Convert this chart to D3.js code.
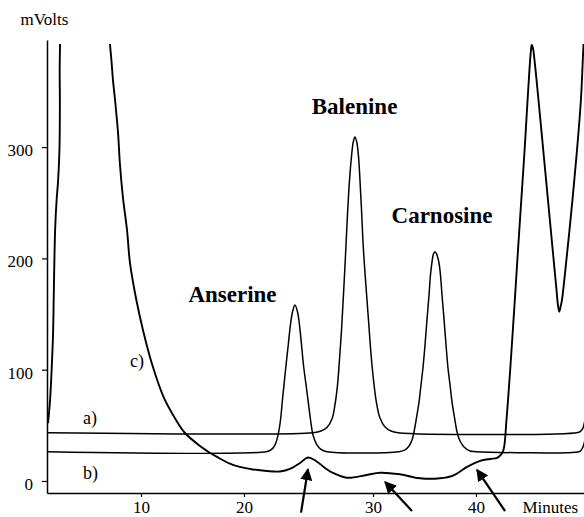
<!DOCTYPE html>
<html>
<head>
<meta charset="utf-8">
<script src="https://cdn.jsdelivr.net/npm/d3@7"></script>
<style>
  html, body { margin: 0; padding: 0; background: #fff; }
  svg { display: block; }
</style>
</head>
<body>
<svg id="chart" width="584" height="517"></svg>
<script>
// Detector signal (mV) against retention time (min) for the three runs.
const traceA = [
  [0.87, 43.4], [25.35, 43.4], [25.97, 44.9], [26.43, 48.1], [26.82, 55.7], [27.05, 68.3],
  [27.25, 86.3], [27.40, 108.7], [27.56, 135.7], [27.71, 167.1], [27.87, 203.1], [28.02, 239.0],
  [28.18, 270.4], [28.33, 291.1], [28.47, 304.6], [28.60, 309.1], [28.74, 304.6], [28.88, 291.1],
  [28.99, 270.4], [29.11, 243.5], [29.26, 207.5], [29.46, 174.3], [29.65, 144.7], [29.84, 115.0],
  [30.05, 90.7], [30.34, 70.1], [30.68, 56.6], [31.17, 48.5], [31.75, 44.9], [32.43, 43.4],
  [49.90, 43.6], [50.19, 44.9], [50.39, 47.6], [50.58, 54.8]
];

const traceB = [
  [0.87, 26.3], [21.71, 26.3], [22.09, 27.9], [22.40, 32.3], [22.64, 41.3], [22.83, 54.8],
  [22.98, 72.8], [23.10, 86.3], [23.26, 104.2], [23.43, 122.2], [23.60, 140.2], [23.76, 151.8],
  [23.95, 158.1], [24.15, 151.8], [24.30, 140.2], [24.46, 122.2], [24.61, 104.2], [24.81, 86.3],
  [24.96, 72.8], [25.16, 54.8], [25.35, 41.3], [25.62, 33.2], [25.97, 28.3], [26.43, 26.3],
  [32.52, 26.3], [33.11, 27.9], [33.50, 31.4], [33.79, 36.8], [33.98, 44.0], [34.22, 56.6],
  [34.47, 71.0], [34.66, 86.3], [34.85, 101.5], [35.05, 122.2], [35.24, 144.7], [35.44, 167.1],
  [35.58, 185.1], [35.73, 196.8], [35.87, 204.0], [36.02, 206.0], [36.17, 204.0], [36.39, 196.8],
  [36.55, 185.1], [36.70, 167.1], [36.90, 144.7], [37.09, 122.2], [37.28, 101.5], [37.48, 86.3],
  [37.67, 71.0], [37.92, 56.6], [38.16, 44.0], [38.45, 35.9], [38.84, 30.5], [39.42, 26.9],
  [40.00, 26.3], [50.00, 26.3], [50.19, 27.4], [50.39, 30.5], [50.58, 36.8]
];

const traceC = [
  [0.97, 52], [1.17, 73], [1.33, 102], [1.46, 133], [1.52, 163], [1.56, 184], [1.66, 226],
  [1.80, 252], [1.95, 270], [2.08, 298], [2.12, 342], [2.10, 369], [2.14, 392], [2.20, 412],
  [6.90, 412], [6.99, 392.6], [7.14, 376.5], [7.28, 360], [7.48, 342.3], [7.77, 312.7],
  [7.96, 283.9], [8.25, 254.3], [8.64, 225.5], [8.93, 195.9], [9.51, 164.4], [10.19, 135.7],
  [11.07, 105.1], [12.23, 74.6], [13.40, 54.8], [14.27, 43.1], [15.73, 31.4], [16.41, 27.0],
  [17.38, 21.6], [18.93, 14.4], [20.47, 10.8], [21.78, 9.0], [22.79, 8.5], [23.57, 10.8],
  [24.34, 16.2], [24.96, 21.1], [25.58, 18.0], [26.28, 11.7], [26.90, 7.2], [27.98, 2.9],
  [29.51, 5.4], [30.68, 7.4], [32.62, 6.0], [34.56, 2.4], [36.50, 2.4], [37.77, 4.9],
  [39.13, 12.6], [40.39, 18.0], [41.36, 19.8], [42.04, 20.7], [42.40, 23.5], [42.67, 27.9],
  [42.96, 54.8], [43.25, 90.7], [43.47, 120.4], [43.77, 162.6], [44.08, 207.5], [44.40, 252.5],
  [44.72, 297.4], [45.01, 342.3], [45.19, 369.3], [45.34, 387.2], [45.41, 391.7], [45.53, 389.0],
  [45.68, 378.3], [46.07, 342.3], [46.53, 297.4], [46.99, 252.5], [47.45, 207.5], [47.82, 171.6],
  [47.96, 158.1], [48.09, 152.1], [48.25, 158.1], [48.35, 162.6], [48.88, 207.5], [49.37, 252.5],
  [49.81, 297.4], [50.19, 342.3], [50.44, 391.7], [50.58, 414]
];

const timeTicks = [10, 20, 30, 40];
const signalTicks = [0, 100, 200, 300];
const peakNames = ["Anserine", "Balenine", "Carnosine"];
const runNames = ["a)", "b)", "c)"];
// Arrows pointing at the minor components of run c): [tail, head] in (min, mV).
const arrows = [
  [[24.42, -28.5], [24.96, 10.5]],
  [[33.79, -27.0], [31.17, -0.9]],
  [[42.82, -27.0], [40.10, 10.0]]
];

const svg = d3.select("#chart");
const serif = "'Liberation Serif', 'Times New Roman', Times, serif";

// Time axis as printed on the recorder chart: its decades are not evenly spaced.
const x = d3.scaleLinear()
  .domain([0.87, 10, 20, 30, 40, 50.49])
  .range([47, 141, 244, 373, 476, 584]);
const y = d3.scaleLinear().domain([-10.8, 396.2]).range([493, 40]);

svg.append("defs").append("clipPath").attr("id", "plot-clip")
  .append("rect").attr("x", 47).attr("y", 44).attr("width", 540).attr("height", 449);

svg.append("defs").append("marker")
  .attr("id", "arrow-head")
  .attr("viewBox", "0 0 10 10")
  .attr("refX", 9).attr("refY", 5)
  .attr("markerWidth", 5.5).attr("markerHeight", 5.5)
  .attr("markerUnits", "strokeWidth")
  .attr("orient", "auto")
  .append("path").attr("d", "M0,0 L10,5 L0,10 Z").attr("fill", "#000");

// Axes
const yAxis = d3.axisLeft(y).tickValues(signalTicks).tickSize(5).tickSizeOuter(0).tickPadding(9);
const xAxis = d3.axisBottom(x).tickValues(timeTicks).tickSize(4).tickSizeOuter(0).tickPadding(4);

const gy = svg.append("g").attr("transform", "translate(47,0)").call(yAxis);
const gx = svg.append("g").attr("transform", "translate(0,493)").call(xAxis);

[gy, gx].forEach(g => {
  g.attr("font-family", serif).attr("font-size", 17);
  g.select(".domain").attr("stroke", "#000").attr("stroke-width", 1.5);
  g.selectAll(".tick line").attr("stroke", "#000").attr("stroke-width", 1.2);
  g.selectAll(".tick text").attr("fill", "#000");
});
gy.selectAll(".tick text").attr("dy", "0.5em");

svg.append("text").attr("x", 20.5).attr("y", 25)
  .attr("font-family", serif).attr("font-size", 17).text("mVolts");
svg.append("text").attr("x", 522.5).attr("y", 513)
  .attr("font-family", serif).attr("font-size", 17).text("Minutes");

// Traces
const line = d3.line()
  .x(d => x(d[0]))
  .y(d => y(d[1]))
  .curve(d3.curveCatmullRom.alpha(0.5));

const plot = svg.append("g").attr("clip-path", "url(#plot-clip)");
[[traceA, 1.5], [traceB, 1.5], [traceC, 1.9]].forEach(([data, w]) => {
  plot.append("path")
    .datum(data)
    .attr("d", line)
    .attr("fill", "none")
    .attr("stroke", "#000")
    .attr("stroke-width", w)
    .attr("stroke-linejoin", "round");
});

// Peak names
const peakLabelAt = [[18.88, 161.1], [28.57, 329.3], [36.70, 231.8]];
svg.append("g").selectAll("text")
  .data(peakNames)
  .join("text")
  .attr("x", (d, i) => x(peakLabelAt[i][0]))
  .attr("y", (d, i) => y(peakLabelAt[i][1]))
  .attr("text-anchor", "middle")
  .attr("font-family", serif)
  .attr("font-weight", "bold")
  .attr("font-size", 23)
  .text(d => d);

// Run names
const runLabelAt = [[4.37, 51.2], [4.37, 1.8], [8.93, 102.4]];
svg.append("g").selectAll("text")
  .data(runNames)
  .join("text")
  .attr("x", (d, i) => x(runLabelAt[i][0]))
  .attr("y", (d, i) => y(runLabelAt[i][1]))
  .attr("font-family", serif)
  .attr("font-size", 18)
  .text(d => d);

// Arrows
svg.append("g").selectAll("line")
  .data(arrows)
  .join("line")
  .attr("x1", d => x(d[0][0]))
  .attr("y1", d => y(d[0][1]))
  .attr("x2", d => x(d[1][0]))
  .attr("y2", d => y(d[1][1]))
  .attr("stroke", "#000")
  .attr("stroke-width", 2.2)
  .attr("marker-end", "url(#arrow-head)");
</script>
</body>
</html>
